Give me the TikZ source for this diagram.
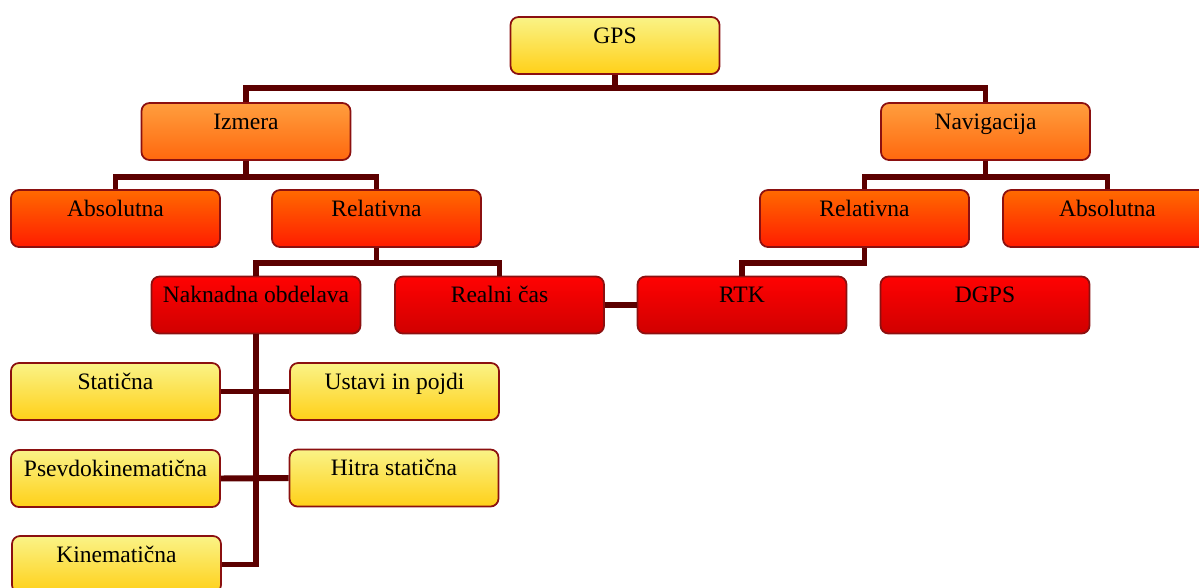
\documentclass[tikz,border=0pt]{standalone}
\usepackage{fontspec}
\setmainfont{Liberation Serif}
\usepackage{tikz}
\usetikzlibrary{positioning}
\definecolor{linkred}{HTML}{5C0000}
\definecolor{edgered}{HTML}{8B1010}
\tikzset{box/.style = {draw=edgered, line width=1pt, rounded corners=0.16cm,
                       minimum width=4.18cm, inner ysep=0pt,
                       text height=0.52cm, text depth=0.62cm,
                       font=\fontsize{13.4}{16}\selectfont},
         yellowbox/.style = {box, top color={rgb,255:red,250;green,243;blue,135},
                             bottom color={rgb,255:red,255;green,208;blue,24}},
         lightorange/.style = {box, top color={rgb,255:red,255;green,158;blue,62},
                               bottom color={rgb,255:red,255;green,104;blue,14}},
         darkorange/.style = {box, top color={rgb,255:red,255;green,106;blue,0},
                              bottom color={rgb,255:red,255;green,28;blue,0}},
         redbox/.style = {box, top color={rgb,255:red,255;green,2;blue,2},
                          bottom color={rgb,255:red,208;green,0;blue,0}},
         link/.style = {draw=linkred, line width=3.4pt}}
\begin{document}
\begin{tikzpicture}
    \useasboundingbox (0, 0) rectangle (23.98, -11.74);

    \node [yellowbox] (gps) at (12.30, -0.91) {GPS};

    \node [lightorange] (izmera) at (4.92, -2.63) {Izmera};
    \node [lightorange] (navig) at (19.71, -2.63) {Navigacija};

    \node [darkorange] (absL) at (2.31, -4.37) {Absolutna};
    \node [darkorange] (relL) at (7.53, -4.37) {Relativna};
    \node [darkorange] (relR) at (17.29, -4.37) {Relativna};
    \node [darkorange] (absR) at (22.15, -4.37) {Absolutna};

    \node [redbox] (nak) at (5.12, -6.10) {Naknadna obdelava};
    \node [redbox] (real) at (9.99, -6.10) {Realni čas};
    \node [redbox] (rtk) at (14.84, -6.10) {RTK};
    \node [redbox] (dgps) at (19.70, -6.10) {DGPS};

    \node [yellowbox] (stat) at (2.31, -7.83) {Statična};
    \node [yellowbox] (ustavi) at (7.89, -7.83) {Ustavi in pojdi};
    \node [yellowbox] (psevdo) at (2.31, -9.57) {Psevdokinematična};
    \node [yellowbox] (hitra) at (7.88, -9.56) {Hitra statična};
    \node [yellowbox] (kinem) at (2.33, -11.29) {Kinematična};

    % tree links
    \draw [link] (gps.south) -- ++(0, -0.26) -| (izmera.north);
    \draw [link] (gps.south) -- ++(0, -0.26) -| (navig.north);
    \draw [link] (izmera.south) -- ++(0, -0.32) -| (absL.north);
    \draw [link] (izmera.south) -- ++(0, -0.32) -| (relL.north);
    \draw [link] (navig.south) -- ++(0, -0.32) -| (relR.north);
    \draw [link] (navig.south) -- ++(0, -0.32) -| (absR.north);
    \draw [link] (relL.south) -- ++(0, -0.30) -| (nak.north);
    \draw [link] (relL.south) -- ++(0, -0.30) -| (real.north);
    \draw [link] (relR.south) -- ++(0, -0.30) -| (rtk.north);
    \draw [link] (real.east) -- (rtk.west);

    \draw [link] (kinem.east) -| (nak.south);
    \draw [link] (stat.east) -- (ustavi.west);
    \draw [link] (psevdo.east) -- (hitra.west);
\end{tikzpicture}
\end{document}
